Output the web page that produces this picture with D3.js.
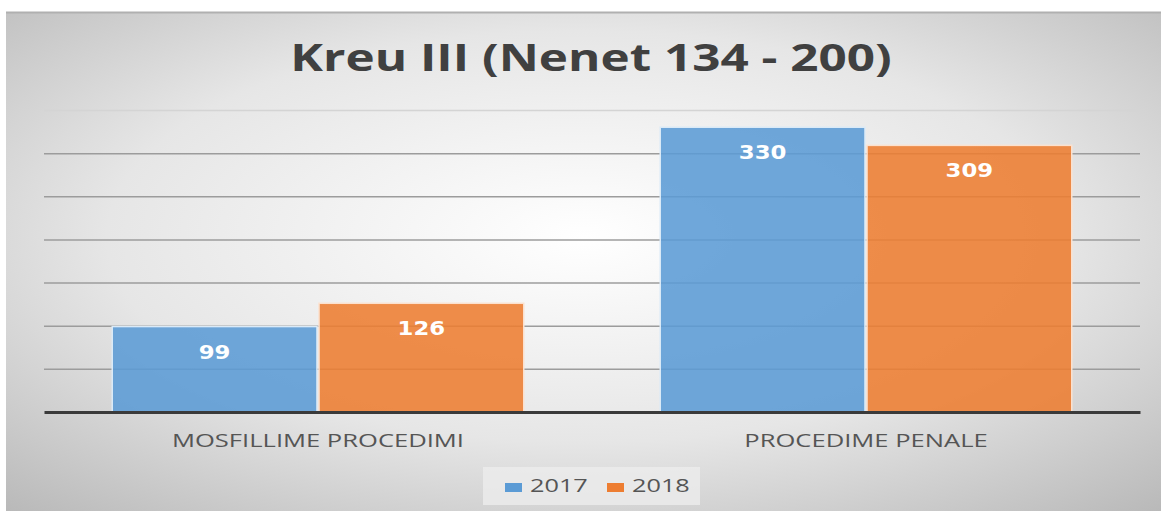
<!DOCTYPE html>
<html>
<head>
<meta charset="utf-8">
<script src="https://cdn.jsdelivr.net/npm/d3@7"></script>
<style>
  body { margin: 0; background: #ffffff; }
  svg { display: block; }
</style>
</head>
<body>
<svg id="chart" width="1168" height="513"></svg>
<script>
// data
const categories = ["MOSFILLIME PROCEDIMI", "PROCEDIME PENALE"];
const seriesNames = ["2017", "2018"];
const values2017 = [99, 330];
const values2018 = [126, 309];
const yTicks = [0, 50, 100, 150, 200, 250, 300, 350];
const colors = ["#5b9bd5", "#ed7d31"];

const rows = categories.map((c, i) => ({
  category: c,
  values: [values2017[i], values2018[i]]
}));

// the original picture is stretched sideways, so text is widened to match
function stretch(sel, k) {
  sel.each(function() {
    var len = this.getComputedTextLength();
    d3.select(this)
      .attr("textLength", len * k)
      .attr("lengthAdjust", "spacingAndGlyphs");
  });
}

var svg = d3.select("#chart"),
  margin = { top: 110, right: 28, bottom: 101, left: 44 },
  width = +svg.attr("width") - margin.left - margin.right,
  height = +svg.attr("height") - margin.top - margin.bottom;

// chart area background (radial gray gradient)
var defs = svg.append("defs");
var grad = defs
  .append("radialGradient")
  .attr("id", "bg")
  .attr("cx", "50%")
  .attr("cy", "45%")
  .attr("r", "75%");
grad.append("stop").attr("offset", "0%").attr("stop-color", "#ffffff");
grad.append("stop").attr("offset", "55%").attr("stop-color", "#e6e6e6");
grad.append("stop").attr("offset", "100%").attr("stop-color", "#b8b8b8");

svg
  .append("rect")
  .attr("x", 6)
  .attr("y", 12)
  .attr("width", 1155)
  .attr("height", 499)
  .attr("fill", "url(#bg)");
svg
  .append("line")
  .attr("x1", 6)
  .attr("x2", 1161)
  .attr("y1", 12.5)
  .attr("y2", 12.5)
  .attr("stroke", "#b0b0b0")
  .attr("stroke-width", 2);

svg
  .append("text")
  .attr("x", 591)
  .attr("y", 71)
  .attr("text-anchor", "middle")
  .attr("font-family", "'Open Sans', sans-serif")
  .attr("font-weight", "bold")
  .attr("font-size", 38)
  .attr("fill", "#404040")
  .text("Kreu III (Nenet 134 - 200)")
  .call(stretch, 1.3);

var x0 = d3
  .scaleBand()
  .domain(categories)
  .range([0, width])
  .paddingInner(0)
  .paddingOuter(0);
var x1 = d3
  .scaleBand()
  .domain(seriesNames)
  .range([0, x0.bandwidth()])
  .paddingInner(0.01)
  .paddingOuter(0.33);
var y = d3.scaleLinear().domain([0, 350]).range([height, 0]);

var g = svg
  .append("g")
  .attr("transform", "translate(" + margin.left + "," + margin.top + ")");

// gridlines
g.append("g")
  .attr("class", "grid")
  .call(
    d3
      .axisLeft(y)
      .tickValues(yTicks.slice(1))
      .tickSize(-width)
      .tickFormat("")
  )
  .call(s => s.select(".domain").remove())
  .call(s =>
    s
      .selectAll(".tick line")
      .attr("stroke", d => (d === 350 ? "#d4d4d4" : "#9c9c9c"))
      .attr("stroke-width", 1.5)
  );

// bars
var groups = g
  .selectAll(".cat")
  .data(rows)
  .enter()
  .append("g")
  .attr("class", "cat")
  .attr("transform", d => "translate(" + x0(d.category) + ",0)");

groups
  .selectAll("rect")
  .data(d => d.values.map((v, i) => ({ series: seriesNames[i], value: v, i: i })))
  .enter()
  .append("rect")
  .attr("x", d => x1(d.series))
  .attr("y", d => y(d.value))
  .attr("width", x1.bandwidth())
  .attr("height", d => height - y(d.value))
  .attr("fill", d => colors[d.i])
  .attr("fill-opacity", 0.88)
  .attr("stroke", d => (d.i === 0 ? "#dbeaf7" : "#fbe1cf"))
  .attr("stroke-width", 1.5);

groups
  .selectAll(".lbl")
  .data(d => d.values.map((v, i) => ({ series: seriesNames[i], value: v })))
  .enter()
  .append("text")
  .attr("class", "lbl")
  .attr("x", d => x1(d.series) + x1.bandwidth() / 2)
  .attr("y", d => y(d.value) + 32)
  .attr("text-anchor", "middle")
  .attr("font-family", "'DejaVu Sans', Verdana, sans-serif")
  .attr("font-weight", "bold")
  .attr("font-size", 19)
  .attr("fill", "#ffffff")
  .text(d => d.value)
  .call(stretch, 1.2);

// x axis
var xAxis = g
  .append("g")
  .attr("transform", "translate(0," + height + ")")
  .call(d3.axisBottom(x0).tickSize(0).tickPadding(0));
xAxis
  .select(".domain")
  .attr("stroke", "#3a3a3a")
  .attr("stroke-width", 3);
xAxis
  .selectAll("text")
  .attr("dy", null)
  .attr("y", 35)
  .attr("font-family", "'Open Sans', sans-serif")
  .attr("font-size", 18)
  .attr("fill", "#555555")
  .call(stretch, 1.42);

// legend
var legend = svg.append("g").attr("transform", "translate(483,467)");
legend
  .append("rect")
  .attr("width", 217)
  .attr("height", 38)
  .attr("fill", "#ececec")
  .attr("fill-opacity", 0.8);
var items = legend
  .selectAll(".item")
  .data(seriesNames)
  .enter()
  .append("g")
  .attr("class", "item")
  .attr("transform", (d, i) => "translate(" + (22 + i * 102) + ",0)");
items
  .append("rect")
  .attr("y", 16)
  .attr("width", 17)
  .attr("height", 9)
  .attr("fill", (d, i) => colors[i]);
items
  .append("text")
  .attr("x", 25)
  .attr("y", 25)
  .attr("font-family", "'Open Sans', sans-serif")
  .attr("font-size", 19)
  .attr("fill", "#555555")
  .text(d => d)
  .call(stretch, 1.33);
</script>
</body>
</html>
